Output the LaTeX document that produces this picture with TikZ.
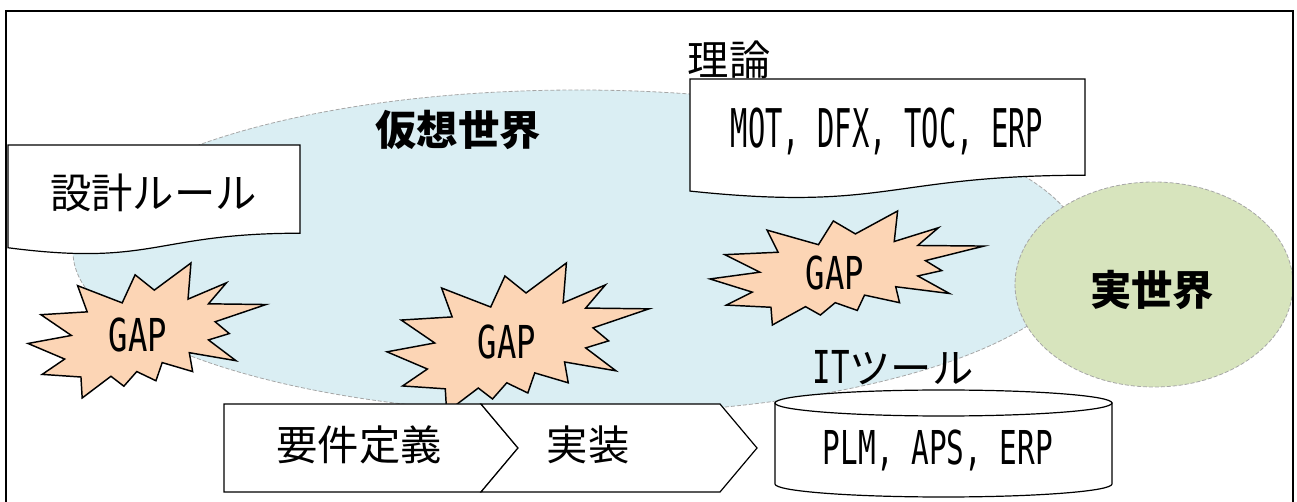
\documentclass[tikz,border=0pt]{standalone}
\usepackage{fontspec}
\usepackage{graphicx}
\setmainfont{Noto Sans CJK JP}
\newfontfamily\latmono{DejaVu Sans Mono}
\newcommand\lat[3]{\scalebox{#1}[1]{\fontsize{#2}{#2}\selectfont\latmono #3}}
\definecolor{virtfill}{HTML}{DAEEF3}
\definecolor{realfill}{HTML}{D7E4BD}
\definecolor{gapfill}{HTML}{FCD5B5}
\definecolor{worldline}{HTML}{A6A6A6}
\newcommand\gapstar[4]{%
  \begin{scope}[shift={(#1,#2)},xscale=#3/216,yscale=#4/216]
    \filldraw[gapshape] (114.62,43.42) -- (147.90,0) -- (145.25,57.77) -- (180.07,31.72) -- (163.80,65.32) -- (216,66.45) -- (169.85,94.02) -- (182.70,112.90) -- (163.80,123.10) -- (188.77,156.32) -- (146.40,143.50) -- (149.42,173.70) -- (121.80,159.35) -- (116.12,188.42) -- (98.72,173.70) -- (87.00,197.12) -- (75.27,181.25) -- (49.17,216) -- (48.05,182.40) -- (12.85,178.25) -- (33.30,153.70) -- (0,128.77) -- (39.35,115.92) -- (11.72,82.70) -- (53.72,78.17) -- (45.02,36.25) -- (85.50,63.82) -- (97.22,18.87) -- cycle;
  \end{scope}}
\newcommand\docshape[4]{%
  \begin{scope}[shift={(#1,#2)},xscale=#3,yscale=#4]
    \filldraw[docbox] (0,0) -- (1,0) -- (1,0.802) .. controls (0.5,0.802) and (0.5,1.107) .. (0,0.934) -- cycle;
  \end{scope}}
\begin{document}
\begin{tikzpicture}[x=0.75pt,y=-0.75pt,
  frameline/.style={line width=1.5pt},
  world/.style={draw=worldline, dash pattern=on 3pt off 1.5pt, line width=0.6pt},
  docbox/.style={draw=black, fill=white, line width=0.9pt},
  gapshape/.style={draw=black, fill=gapfill, line width=1.1pt, line join=miter},
  flowbox/.style={draw=black, fill=white, line width=0.9pt, line join=miter},
  jp/.style={inner sep=0pt, font=\fontsize{31pt}{31pt}\selectfont},
  jpb/.style={inner sep=0pt, font=\fontsize{31pt}{31pt}\selectfont\bfseries},
  lt/.style={inner sep=0pt}]
\useasboundingbox (0,0) rectangle (1297,502);
% virtual world
\path[world, fill=virtfill] (578,252) ellipse [x radius=505, y radius=162];
% real world
\path[world, fill=realfill] (1154,284.5) ellipse [x radius=139, y radius=102.5];
% document boxes
\docshape{8}{145}{292}{110}
\docshape{690}{79}{395}{120}
% GAP stars
\gapstar{28}{263}{238}{135}
\gapstar{387}{263}{262}{149}
\gapstar{710}{211}{274}{114}
% process arrows
\filldraw[flowbox] (224,404) -- (481,404) -- (518,448) -- (481,492) -- (224,492) -- cycle;
\filldraw[flowbox] (481,404) -- (720,404) -- (757,448) -- (720,492) -- (481,492) -- (518,448) -- cycle;
% cylinder
\filldraw[flowbox] (775,403) -- (775,484) .. controls (775,491.18) and (850.44,497) .. (943.5,497) .. controls (1036.56,497) and (1112,491.18) .. (1112,484) -- (1112,403) -- cycle;
\filldraw[flowbox] (943.5,403) ellipse [x radius=168.5, y radius=13];
% frame
\draw[frameline] (6,502) -- (6,11) -- (1293,11) -- (1293,502);
% texts
\node[jp] (rule) at (153.5,192.5) {設計ルール};
\node[jp] (theorylbl) at (729,60) {理論};
\node[lt] (theory) at (887,131) {\lat{0.54}{40pt}{MOT, DFX, TOC, ERP}};
\node[jpb] (virt) at (458,130) {仮想世界};
\node[jpb] (real) at (1152,290) {実世界};
\node[lt] (gap1) at (138,335) {\lat{0.71}{34pt}{GAP}};
\node[lt] (gap2) at (507,342) {\lat{0.71}{34pt}{GAP}};
\node[lt] (gap3) at (835,273) {\lat{0.71}{34pt}{GAP}};
\node[jp] (itlbl) at (893,368) {\lat{0.68}{34pt}{IT}ツール};
\node[lt] (tools) at (938,450) {\lat{0.63}{35pt}{PLM, APS, ERP}};
\node[jp] (req) at (359,445) {要件定義};
\node[jp] (impl) at (588,445) {実装};
\end{tikzpicture}
\end{document}
